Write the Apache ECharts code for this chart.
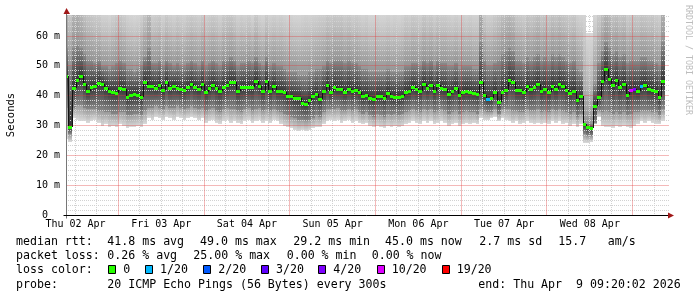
<!DOCTYPE html>
<html><head><meta charset="utf-8">
<script src="https://cdn.jsdelivr.net/npm/echarts@6/dist/echarts.min.js"></script>
<style>html,body{margin:0;padding:0;background:#fff}#c{width:697px;height:297px}</style>
</head><body><div id="c"></div>
<script>
// ---- time frame (hours since Thu 02 Apr 00:00) ----
const START_HOUR = 9 + 20/60 + 2/3600;   // Thu 02 Apr 09:20:02
const END_HOUR = START_HOUR + 168;         // Thu 09 Apr 09:20:02
const FIRST_BIN_HOUR = 9;                  // hourly bins start 09:00

const dayLabels = ['Thu 02 Apr','Fri 03 Apr','Sat 04 Apr','Sun 05 Apr','Mon 06 Apr','Tue 07 Apr','Wed 08 Apr'];
const dayLabelHours = [12, 36, 60, 84, 108, 132, 156];
const majorGridHours = [24, 48, 72, 96, 120, 144, 168];
const minorGridHours = [12,18,30,36,42,54,60,66,78,84,90,102,108,114,126,132,138,150,156,162,174];
const yTickValues = [0, 10, 20, 30, 40, 50, 60];
const yTickLabels = ['0  ', '10 m', '20 m', '30 m', '40 m', '50 m', '60 m'];
const Y_MAX = 67.04;

// ---- median rtt per hour (ms) ----
const median = [
 46.5,29.4,42.5,45.3,46.6,43.9,41.6,42.8,43.2,44.2,43.9,42.5,
 41.6,41.2,41.0,42.5,42.2,39.4,40.3,40.4,40.2,39.7,44.5,43.1,
 43.1,42.7,43.5,41.9,44.7,42.6,43.1,42.5,42.3,41.8,42.8,44.0,
 42.9,42.3,43.8,41.2,42.5,43.6,42.7,41.7,43.0,43.5,44.6,44.6,
 41.6,42.8,42.9,43.0,43.0,44.9,43.4,41.5,44.9,41.7,43.1,41.7,
 41.5,41.3,40.0,39.9,39.3,39.1,37.7,37.2,38.7,39.8,40.6,38.8,
 41.7,43.6,41.3,42.9,42.3,42.3,41.1,42.2,41.7,41.9,41.2,39.9,
 40.2,39.2,38.9,39.9,39.9,39.1,40.8,40.0,39.7,39.6,39.9,41.2,
 41.7,42.8,42.2,41.7,43.9,42.7,43.6,41.7,43.6,42.5,42.2,40.6,
 41.6,42.5,40.3,41.3,41.7,41.3,40.9,40.4,44.7,40.3,39.0,39.2,
 41.1,38.0,41.1,41.9,45.3,44.6,41.9,41.9,41.3,43.1,42.3,42.8,
 43.9,41.7,42.1,41.1,43.1,42.1,43.9,43.2,41.8,40.8,41.6,38.5,
 39.9,30.4,29.6,29.3,36.5,39.7,45.0,48.8,45.6,43.6,45.3,43.0,
 43.9,40.1,41.8,42.3,41.6,43.2,43.5,42.1,41.9,41.5,39.6,44.8
];
// ---- smoke: lowest ping, lower inner, upper inner, highest ping (ms) ----
const smokeLow = [
 25.5,24.5,32.5,32.0,31.5,31.5,31.0,31.5,32.0,31.0,30.0,30.5,
 29.5,30.0,29.5,30.5,30.0,29.0,29.5,29.5,30.0,29.5,30.5,32.5,
 32.0,33.0,32.5,32.0,33.0,32.5,32.0,33.0,32.5,32.0,32.5,33.0,
 32.5,32.0,32.5,31.0,31.5,32.0,31.0,30.5,31.5,32.0,31.0,31.5,
 31.0,30.5,31.5,32.0,31.0,31.5,32.0,31.0,31.5,31.0,32.0,31.5,
 30.5,30.0,29.5,29.0,28.5,28.0,28.5,28.0,28.5,29.0,29.5,29.5,
 30.5,31.5,32.0,31.5,32.0,31.0,31.5,32.0,31.0,31.5,31.0,30.5,
 31.0,30.0,29.5,30.0,29.5,29.0,30.0,29.5,30.0,29.5,30.0,30.5,
 31.0,31.5,31.0,30.5,31.5,31.0,31.5,30.5,31.0,31.5,31.0,30.0,
 30.5,31.0,30.0,30.5,31.0,30.5,31.0,30.5,32.5,32.0,32.0,32.5,
 33.0,31.5,32.5,32.0,31.5,31.0,31.5,30.5,31.0,31.5,31.0,30.5,
 31.0,30.5,31.0,30.5,31.5,31.0,31.5,30.5,31.0,30.0,30.5,29.5,
 30.5,24.0,24.0,24.5,30.5,33.0,30.0,29.5,29.5,29.0,30.0,29.5,
 30.0,29.5,29.0,30.0,30.5,31.5,31.0,31.5,31.0,30.5,30.5,31.5
];
const smokeLowMid = [
 36.0,27.0,36.0,37.0,37.0,36.0,35.5,35.5,35.5,35.0,35.0,34.5,
 34.5,34.0,34.0,34.5,34.5,33.5,33.5,34.0,34.0,33.5,35.0,36.0,
 36.0,36.5,36.0,35.5,36.5,36.0,36.0,36.5,36.0,35.5,36.0,36.5,
 36.0,35.5,36.0,35.0,35.5,36.0,35.0,34.5,35.5,36.0,35.5,35.5,
 35.0,34.5,35.5,36.0,35.0,35.5,36.0,35.0,35.5,35.0,35.5,35.0,
 34.5,34.0,33.5,33.0,32.5,32.0,32.0,31.5,32.0,32.5,33.5,33.0,
 34.5,35.5,35.5,35.5,36.0,35.0,35.0,35.5,35.0,35.5,34.5,34.0,
 34.5,33.5,33.0,34.0,33.5,33.0,34.0,33.5,34.0,33.5,34.0,34.5,
 35.0,35.5,35.0,34.5,35.5,35.0,35.5,34.5,35.0,35.5,35.0,34.0,
 34.5,35.0,34.0,34.5,35.0,34.5,34.5,34.0,35.5,35.0,34.5,34.5,
 35.5,34.0,35.5,35.5,35.5,35.0,35.0,34.5,34.5,35.5,35.0,35.0,
 35.5,34.5,35.0,34.5,35.5,35.0,35.5,35.0,34.5,34.0,34.5,33.0,
 34.0,27.0,26.5,26.5,31.0,35.0,34.5,35.0,34.5,34.0,34.5,34.0,
 34.5,33.5,34.0,34.5,34.5,35.0,35.0,35.0,34.5,34.5,33.5,35.5
];
const smokeHighMid = [
 56,50,56,57,56,54,52,52,51,52,50,50,
 49,50,51,52,51,49,49,48,49,50,53,56,
 51,51,52,50,52,51,50,51,50,50,51,52,
 51,50,52,50,51,52,51,50,52,52,53,52,
 50,51,51,52,51,53,51,50,53,50,51,50,
 50,49,48,48,48,47,47,47,48,48,49,49,
 50,52,51,52,52,52,51,52,51,51,50,49,
 49,48,48,48,48,48,49,48,48,48,48,50,
 50,51,51,50,52,51,52,50,52,51,51,50,
 50,51,49,50,50,50,49,49,58,52,50,50,
 51,52,54,55,56,55,52,52,51,53,52,53,
 54,52,53,52,54,53,54,53,52,51,52,49,
 48,31,30.5,30.5,44,51,55,58,56,54,55,53,
 54,51,52,52,52,53,53,52,52,51,50,58
];
const smokeHigh = [
 85,75,84,85,80,76,74,73,72,71,69,69,
 68,70,72,73,71,69,68,67.5,68,70,74,80,
 70,71,72,69,72,70,69,71,70,69,71,72,
 71,70,72,70,71,72,71,69,72,73,73,71,
 69,70,69,70,68,72,69,68,71,69,70,69,
 70,69,68,69,68,68,69,70,69,70,70,71,
 71,73,72,73,72,73,71,72,70,71,70,69,
 70,68,68,69,68,68,69,68,69,68,69,71,
 70,72,71,70,73,71,72,70,72,71,71,70,
 69,70,69,70,69,70,69,69,90,72,70,70,
 72,74,77,78,79,77,73,72,71,74,73,74,
 76,73,74,73,75,74,76,74,73,72,73,70,
 69,70,61,61,68,72,76,80,78,75,76,74,
 75,71,72,73,72,74,73,72,73,71,70,85
];
// ---- packet loss events: [hour index, lost pings of 20] ----
const lossEvents = [[118, 1], [158, 10], [159, 4], [161, 1]];
const lossLevels = [0, 1, 2, 3, 4, 10, 19];
const lossLabels = ['0', '1/20', '2/20', '3/20', '4/20', '10/20', '19/20'];
const lossColors = ['#26ff00', '#00b8ff', '#0059ff', '#5e00ff', '#7e00ff', '#dd00ff', '#ff0000'];

const FONT = '"DejaVu Sans Mono", monospace';
const GRID_RED = 'rgba(225,60,60,0.36)';
const GRID_GRAY = '#d2d2d2';
const PLOT = {left: 66, top: 15, width: 600, height: 200};

function lossColorFor(i) {
  const ev = lossEvents.find(e => e[0] === i);
  const n = ev ? ev[1] : 0;
  let idx = 0;
  lossLevels.forEach((lv, k) => { if (n >= lv) idx = k; });
  return lossColors[idx];
}
function binRange(i) {
  const a = FIRST_BIN_HOUR + i;
  return [Math.max(a, START_HOUR), Math.min(a + 1, END_HOUR)];
}
function grad(stops) {
  return new echarts.graphic.LinearGradient(0, 0, 0, 1, stops.map(s => ({offset: s[0], color: s[1]})));
}

// grid levels (minor every 1/6 of a major step, as rrdtool draws it)
const hGridValues = [];
for (let k = 1; k * 10 / 6 <= Y_MAX; k++) hGridValues.push({v: k * 10 / 6, major: k % 6 === 0});

const chart = echarts.init(document.getElementById('c'), null, {renderer: 'canvas', width: 697, height: 297});

const option = {
  animation: false,
  backgroundColor: '#ffffff',
  grid: {left: PLOT.left, top: PLOT.top, width: PLOT.width, height: PLOT.height, containLabel: false},
  xAxis: {
    type: 'value', min: START_HOUR, max: END_HOUR,
    axisLine: {show: false}, axisTick: {show: false}, splitLine: {show: false},
    axisLabel: {
      customValues: dayLabelHours,
      formatter: v => { const i = dayLabelHours.indexOf(v); return i >= 0 ? dayLabels[i] : ''; },
      fontFamily: FONT, fontSize: 10, color: '#000', margin: 4
    }
  },
  yAxis: {
    type: 'value', min: 0, max: Y_MAX, interval: 10,
    axisLine: {show: false}, axisTick: {show: false}, splitLine: {show: false},
    axisLabel: {
      customValues: yTickValues,
      formatter: v => { const i = yTickValues.indexOf(v); return i >= 0 ? yTickLabels[i] : ''; },
      fontFamily: FONT, fontSize: 10, color: '#000', margin: 6
    }
  },
  series: [
    { // smoke
      type: 'custom', z: 1, clip: true, silent: true,
      data: median.map((m, i) => [i, smokeLow[i], smokeLowMid[i], m, smokeHighMid[i], smokeHigh[i]]),
      renderItem(params, api) {
        const i = api.value(0);
        const r = binRange(i);
        const x0 = Math.round(api.coord([r[0], 0])[0]);
        const x1 = Math.round(api.coord([r[1], 0])[0]);
        const y = [1, 2, 3, 4, 5].map(d => Math.round(api.coord([r[0], api.value(d)])[1]));
        const bands = [
          [y[1], y[0], [[0, '#999999'], [1, '#dadada']]],
          [y[2], y[1], [[0, '#353535'], [1, '#878787']]],
          [y[3], y[2], [[0, '#8a8a8a'], [1, '#353535']]],
          [y[4], y[3], [[0, '#d8d8d8'], [0.45, '#bebebe'], [1, '#959595']]]
        ];
        return {
          type: 'group',
          children: bands.filter(b => b[1] > b[0]).map(b => ({
            type: 'rect', shape: {x: x0, y: b[0], width: x1 - x0, height: b[1] - b[0]},
            style: {fill: grad(b[2])}
          }))
        };
      }
    },
    { // median with loss colour
      type: 'custom', z: 6, clip: true, silent: true,
      data: median.map((m, i) => [i, m, i > 0 ? median[i - 1] : m]),
      renderItem(params, api) {
        const i = api.value(0);
        const r = binRange(i);
        const x0 = Math.round(api.coord([r[0], 0])[0]);
        const x1 = Math.round(api.coord([r[1], 0])[0]);
        const ym = Math.round(api.coord([r[0], api.value(1)])[1]);
        const yp = Math.round(api.coord([r[0], api.value(2)])[1]);
        const children = [];
        if (i > 0 && yp !== ym) {
          children.push({type: 'line', shape: {x1: x0 + 0.5, y1: yp, x2: x0 + 0.5, y2: ym},
            style: {stroke: '#111', lineWidth: 1}});
        }
        children.push({type: 'rect', shape: {x: x0, y: ym - 1, width: x1 - x0, height: 3},
          style: {fill: lossColorFor(i)}});
        return {type: 'group', children};
      }
    }
  ]
};
chart.setOption(option);

// ---- grid (over the smoke), axes, arrows and text (rrdtool style) ----
const px = h => chart.convertToPixel({gridIndex: 0}, [h, 0])[0];
const py = v => chart.convertToPixel({gridIndex: 0}, [START_HOUR, v])[1];
const xL = px(START_HOUR), xR = px(END_HOUR), yB = py(0), yT = py(Y_MAX);
const g = [];
function gline(x1, y1, x2, y2, color, z, dash) {
  g.push({type: 'line', z: z, silent: true, shape: {x1, y1, x2, y2},
    style: {stroke: color, lineWidth: 1, lineDash: dash}});
}
hGridValues.filter(h => !h.major).forEach(h => { const y = Math.floor(py(h.v)) + 0.5; gline(xL, y, xR + 3, y, GRID_GRAY, 3, [1, 1]); });
minorGridHours.forEach(hr => { const x = Math.floor(px(hr)) + 0.5; gline(x, yT, x, yB, GRID_GRAY, 3, [1, 1]); });
hGridValues.filter(h => h.major).forEach(h => { const y = Math.floor(py(h.v)) + 0.5; gline(xL, y, xR + 3, y, GRID_RED, 4, null); });
majorGridHours.forEach(hr => { const x = Math.floor(px(hr)) + 0.5; gline(x, yT, x, yB, GRID_RED, 4, null); });

const ax = Math.floor(xL) + 0.5, ay = Math.floor(yB) + 0.5;
g.push({type: 'line', z: 10, shape: {x1: ax, y1: yT - 3, x2: ax, y2: ay + 3}, style: {stroke: '#777', lineWidth: 1}});
g.push({type: 'line', z: 10, shape: {x1: ax - 3, y1: ay, x2: xR + 4, y2: ay}, style: {stroke: '#000', lineWidth: 1}});
g.push({type: 'polygon', z: 11, shape: {points: [[ax, yT - 7], [ax - 3, yT - 1], [ax + 3.5, yT - 1]]}, style: {fill: '#a01818'}});
g.push({type: 'polygon', z: 11, shape: {points: [[xR + 8, ay], [xR + 2, ay - 3], [xR + 2, ay + 3]]}, style: {fill: '#a01818'}});

g.push({type: 'text', z: 10, x: 11, y: 115, rotation: Math.PI / 2,
  style: {text: 'Seconds', font: '10.5px ' + FONT, fill: '#000', align: 'center', verticalAlign: 'middle'}});
g.push({type: 'text', z: 10, x: 688, y: 60, rotation: -Math.PI / 2,
  style: {text: 'RRDTOOL / TOBI OETIKER', font: '8.3px ' + FONT, fill: '#bdbdbd', align: 'center', verticalAlign: 'middle'}});

const LEG_FONT = '11.6px ' + FONT;
const rowY = [242, 256.1, 270.3, 284.6];
const legendTexts = [
  [0, 16, 'median rtt:'], [0, 107.3, '41.8 ms avg'], [0, 200, '49.0 ms max'], [0, 293.3, '29.2 ms min'],
  [0, 385, '45.0 ms now'], [0, 479.3, '2.7 ms sd'], [0, 558.3, '15.7'], [0, 607.7, 'am/s'],
  [1, 16, 'packet loss:'], [1, 107.3, '0.26 % avg'], [1, 193.3, '25.00 % max'], [1, 286.7, '0.00 % min'],
  [1, 371.7, '0.00 % now'],
  [2, 16, 'loss color:'],
  [3, 16, 'probe:'], [3, 107.3, '20 ICMP Echo Pings (56 Bytes) every 300s'], [3, 478.3, 'end: Thu Apr  9 09:20:02 2026']
];
legendTexts.forEach(t => g.push({type: 'text', z: 10, x: t[1], y: rowY[t[0]],
  style: {text: t[2], font: LEG_FONT, fill: '#000', align: 'left', verticalAlign: 'middle'}}));
const boxX = [108.3, 145, 202.7, 260.7, 318.3, 376.7, 441.7];
const boxLabelX = [123.3, 160, 218.3, 276, 333.3, 391.7, 456.7];
lossLabels.forEach((lab, k) => {
  const bx = Math.round(boxX[k]) + 0.5;
  g.push({type: 'rect', z: 10, shape: {x: bx, y: 265.5, width: 7, height: 8},
    style: {fill: lossColors[k], stroke: '#000', lineWidth: 1}});
  g.push({type: 'text', z: 10, x: boxLabelX[k], y: rowY[2],
    style: {text: lab, font: LEG_FONT, fill: '#000', align: 'left', verticalAlign: 'middle'}});
});
chart.setOption({graphic: {elements: g}});
</script>
</body></html>
